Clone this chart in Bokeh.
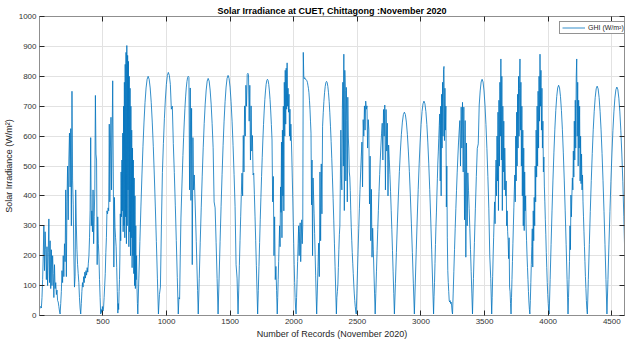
from bokeh.plotting import figure
from bokeh.models import LinearAxis, Range1d, Legend, LegendItem, FixedTicker, ColumnDataSource
from bokeh.embed import file_html
from bokeh.resources import INLINE

# ---------------- data ----------------
# record number at which each day's curve starts (trough), plus the closing trough
day_start = [1, 163, 325, 482, 617, 774, 936, 1092, 1249, 1405, 1562, 1716, 1870,
             2018, 2180, 2335, 2491, 2640, 2791, 2948, 3099, 3248, 3405, 3556,
             3708, 3856, 4008, 4156, 4308, 4462, 4618]
final_ghi = 5

# GHI readings (W/m^2) for each day, evenly spaced between that day's start and the next
day01 = [20, 28, 30, 25, 60, 120, 200, 300, 150, 280, 220, 120, 230, 100, 210, 323, 110,
         250, 90, 220, 100, 200, 140, 60, 170, 90, 110, 70, 85, 50, 45, 30, 15]
day02 = [5, 40, 80, 150, 110, 200, 130, 240, 180, 420, 130, 380, 500, 320, 520, 610, 430,
         625, 300, 750, 450, 370, 200, 95, 130, 420, 300, 220, 170, 140, 110, 60, 25]
day03 = [5, 40, 80, 110, 95, 130, 110, 145, 125, 150, 135, 160, 145, 175, 200, 260, 350,
         595, 300, 350, 280, 420, 240, 330, 420, 736, 540, 520, 170, 330, 240, 200, 120, 60]
day04 = [5, 20, 10, 30, 15, 25, 60, 100, 140, 210, 260, 350, 340, 360, 350, 640, 380, 560,
         663, 420, 600, 785, 480, 162, 395, 295, 260, 230, 160, 80]
day05 = [8, 40, 20, 80, 120, 200, 340, 250, 480, 330, 520, 350, 610, 280, 700, 300, 780,
         260, 840, 330, 880, 240, 903, 300, 870, 420, 850, 230, 800, 280, 760, 200, 700,
         260, 620, 160, 560, 200, 520, 140, 460, 100, 400, 90, 300, 120, 200, 90, 40]
day06 = [5, 125, 247, 363, 470, 566, 647, 713, 761, 790, 800, 790, 761, 713, 647, 566, 470, 363, 247, 125]
day07 = [5, 70, 95, 300, 478, 575, 658, 724, 773, 803, 813, 803, 773, 690, 700, 575, 478, 369, 251, 127]
day08 = [5, 60, 55, 200, 326, 400, 470, 535, 595, 647, 693, 731, 761, 782, 796, 800, 796,
         420, 761, 385, 693, 170, 595, 420, 470, 400, 326, 247, 166, 84]
day09 = [5, 124, 245, 360, 466, 561, 642, 707, 754, 784, 793, 784, 754, 707, 642, 561, 380, 360, 245, 124]
day10 = [5, 125, 248, 365, 472, 568, 650, 715, 764, 793, 803, 793, 764, 715, 650, 568, 472, 365, 170, 125]
day11 = [5, 85, 168, 250, 330, 405, 476, 400, 602, 480, 701, 600, 770, 700, 806, 810, 806,
         650, 770, 520, 701, 550, 602, 470, 476, 405, 330, 250, 168, 85]
day12 = [5, 83, 164, 244, 322, 395, 465, 529, 587, 639, 684, 722, 751, 773, 786, 790, 786,
         773, 751, 722, 684, 639, 587, 380, 465, 200, 330, 120, 164, 83]
day13 = [5, 60, 120, 180, 240, 300, 230, 430, 345, 580, 260, 620, 400, 700, 350, 780, 600,
         820, 640, 827, 690, 845, 700, 760, 680, 740, 600, 690, 585, 640, 590, 530, 460,
         390, 310, 240, 170, 110, 60, 25]
day14 = [5, 60, 120, 180, 240, 300, 200, 280, 310, 180, 250, 320, 240, 300, 880, 800, 792,
         795, 790, 790, 788, 785, 780, 770, 760, 745, 720, 690, 650, 610, 370, 520, 200,
         460, 400, 340, 275, 205, 135, 65]
day15 = [5, 82, 163, 242, 130, 480, 250, 507, 340, 633, 678, 716, 745, 766, 779, 783, 779,
         766, 745, 716, 678, 633, 582, 524, 460, 392, 319, 242, 163, 82]
day16 = [5, 60, 80, 105, 160, 220, 270, 300, 450, 620, 470, 420, 690, 780, 500, 874, 351,
         820, 753, 450, 763, 652, 380, 730, 597, 560, 480, 463, 418, 350, 295, 250, 210,
         175, 140, 105, 75, 50, 30, 15]
day17 = [5, 75, 149, 222, 292, 359, 422, 480, 533, 580, 430, 655, 600, 701, 620, 717, 690,
         701, 560, 655, 621, 373, 533, 250, 422, 195, 292, 222, 149, 75]
day18 = [5, 74, 146, 218, 287, 352, 414, 471, 523, 570, 610, 643, 520, 689, 600, 704, 420,
         689, 550, 643, 400, 570, 523, 471, 414, 352, 287, 218, 146, 74]
day19 = [5, 106, 210, 309, 400, 481, 550, 606, 647, 672, 680, 672, 647, 606, 550, 481, 400, 309, 210, 106]
day20 = [5, 112, 222, 326, 422, 507, 580, 639, 682, 708, 717, 708, 682, 639, 580, 507, 422, 326, 222, 112]
day21 = [5, 63, 111, 174, 237, 298, 343, 401, 457, 510, 547, 593, 635, 674, 450, 700, 400,
         740, 560, 780, 600, 822, 833, 585, 760, 620, 700, 363, 500, 262, 150, 110, 80, 50,
         45, 50, 40, 45, 35, 15]
day22 = [5, 75, 148, 220, 290, 357, 419, 477, 530, 577, 617, 652, 500, 697, 560, 713, 480,
         697, 320, 652, 195, 577, 300, 477, 419, 357, 290, 220, 148, 75]
day23 = [5, 124, 244, 359, 465, 559, 574, 704, 751, 781, 790, 781, 751, 704, 639, 559, 465, 359, 200, 124]
day24 = [5, 60, 130, 200, 260, 320, 380, 307, 450, 520, 400, 600, 450, 680, 351, 720, 500,
         780, 600, 858, 520, 800, 351, 700, 480, 650, 420, 560, 480, 400, 450, 300, 350,
         280, 250, 190, 260, 95, 80, 40]
day25 = [5, 60, 120, 180, 240, 300, 360, 420, 470, 380, 600, 450, 680, 500, 740, 560, 800,
         600, 760, 858, 620, 780, 500, 700, 400, 620, 300, 560, 284, 480, 350, 400, 300,
         250, 200, 160, 120, 80, 45, 20]
day26 = [5, 50, 110, 170, 230, 290, 162, 350, 250, 395, 300, 500, 380, 620, 463, 700, 500,
         750, 560, 800, 650, 874, 700, 820, 620, 760, 560, 650, 480, 530, 430, 380, 320,
         270, 210, 160, 110, 70, 40, 15]
day27 = [5, 120, 238, 350, 453, 544, 623, 686, 732, 761, 770, 761, 732, 686, 623, 544, 453, 350, 238, 120]
day28 = [5, 60, 120, 180, 300, 220, 403, 330, 400, 460, 420, 550, 463, 650, 520, 720, 560,
         800, 858, 600, 780, 500, 720, 560, 700, 450, 600, 441, 540, 420, 470, 380, 330,
         280, 230, 180, 130, 90, 50, 20]
day29 = [5, 120, 237, 348, 451, 542, 621, 683, 729, 758, 767, 758, 729, 683, 621, 542, 451, 348, 237, 120]
day30 = [5, 120, 236, 347, 449, 540, 618, 681, 727, 755, 764, 755, 727, 681, 618, 540, 449, 330, 200, 100]

x_ticks = [500, 1000, 1500, 2000, 2500, 3000, 3500, 4000, 4500]
y_ticks = [0, 100, 200, 300, 400, 500, 600, 700, 800, 900, 1000]
x_limits = (1, 4600)
y_limits = (0, 1000)

# ---------------- build series ----------------
days = [day01, day02, day03, day04, day05, day06, day07, day08, day09, day10,
        day11, day12, day13, day14, day15, day16, day17, day18, day19, day20,
        day21, day22, day23, day24, day25, day26, day27, day28, day29, day30]
records, ghi = [], []
for i, vals in enumerate(days):
    s, e = day_start[i], day_start[i + 1]
    n = len(vals)
    for k, v in enumerate(vals):
        records.append(s + (e - s) * k / n)
        ghi.append(v)
records.append(day_start[-1])
ghi.append(final_ghi)
src = ColumnDataSource(data=dict(rec=records, ghi=ghi))

FONT = "Liberation Sans"
AX = "#262626"

p = figure(width=626, height=343, output_backend="svg", toolbar_location=None,
           x_range=Range1d(*x_limits), y_range=Range1d(*y_limits),
           min_border_left=38, min_border_right=2, min_border_top=16, min_border_bottom=28)
p.background_fill_color = "white"
p.border_fill_color = "white"
p.outline_line_color = None

p.title.text = "Solar Irradiance at CUET, Chittagong :November 2020"
p.title.align = "center"
p.title.text_font = FONT
p.title.text_font_size = "9px"
p.title.text_font_style = "bold"
p.title.text_color = "#000000"
p.title.standoff = 1

def style_axis(ax, ticks, show_labels):
    ax.ticker = FixedTicker(ticks=ticks)
    ax.axis_line_color = "#8f8f8f"
    ax.axis_line_width = 1
    ax.major_tick_line_color = AX
    ax.major_tick_line_width = 1
    ax.major_tick_in = 5
    ax.major_tick_out = 0
    ax.minor_tick_line_color = None
    ax.major_label_text_font = FONT
    ax.axis_label_text_font = FONT
    ax.axis_label_text_font_style = "normal"
    ax.axis_label_text_color = AX
    ax.axis_label_text_font_size = "9px"
    ax.axis_label_standoff = 2
    if show_labels:
        ax.major_label_text_color = "#333333"
        ax.major_label_text_font_size = "8px"
        ax.major_label_standoff = 3
    else:
        # tick marks only: labels are not drawn at all
        ax.major_label_text_color = None
        ax.major_label_standoff = 0

bx = p.below[0]
ly = p.left[0]
style_axis(bx, x_ticks, True)
style_axis(ly, y_ticks, True)
bx.axis_label = "Number of Records (November 2020)"
ly.axis_label = "Solar Irradiance (W/m²)"

top_ax = LinearAxis()
style_axis(top_ax, x_ticks, False)
right_ax = LinearAxis()
style_axis(right_ax, y_ticks, False)
p.add_layout(top_ax, "above")
p.add_layout(right_ax, "right")

p.xgrid.ticker = FixedTicker(ticks=x_ticks)
p.ygrid.ticker = FixedTicker(ticks=y_ticks)
for g in (p.xgrid, p.ygrid):
    g.grid_line_color = "#e2e2e2"
    g.grid_line_width = 1

r = p.line(x="rec", y="ghi", source=src, line_color="#0072BD", line_width=0.8)

legend = Legend(items=[LegendItem(label="GHI (W/m²)", renderers=[r])],
                location=(520, 281), margin=0, padding=2, spacing=0,
                glyph_width=23, glyph_height=7, label_height=7, label_standoff=3,
                label_text_font=FONT, label_text_font_size="7px", label_text_color=AX,
                border_line_color=AX, border_line_width=1,
                background_fill_color="white", background_fill_alpha=1)
p.add_layout(legend)

open("out.html", "w").write(file_html(p, INLINE))
